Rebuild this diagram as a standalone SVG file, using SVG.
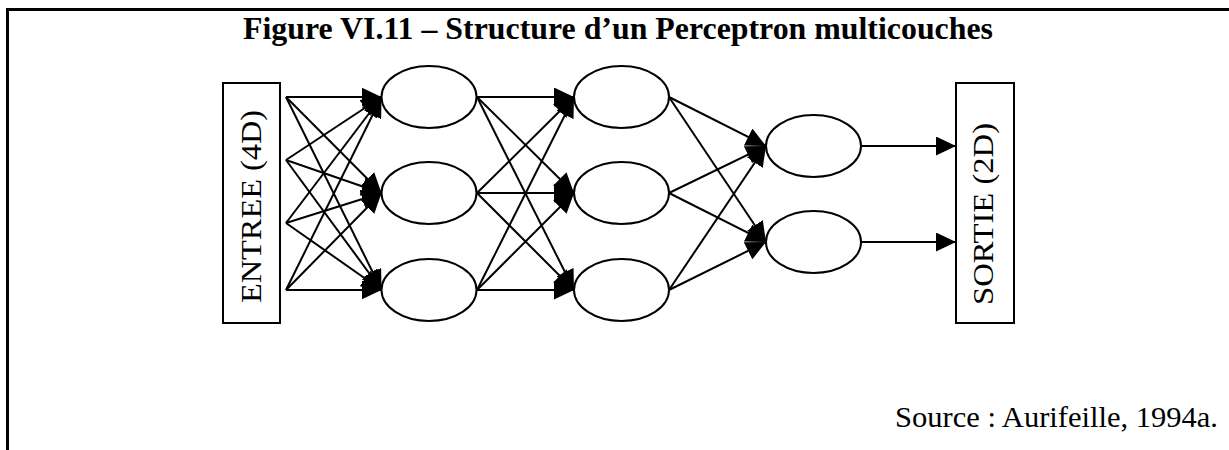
<svg xmlns="http://www.w3.org/2000/svg" width="1229" height="450" viewBox="0 0 1229 450">
<style>
.frame{stroke:#000;stroke-width:3;fill:none}
.box{fill:#fff;stroke:#000;stroke-width:2}
.neuron{fill:#fff;stroke:#000;stroke-width:2}
.conn line{stroke:#000;stroke-width:2;marker-end:url(#ah)}
.lbl{font-family:"Liberation Serif","Times New Roman",serif;font-size:30px;fill:#000}
.title{font-family:"Liberation Serif","Times New Roman",serif;font-size:31px;font-weight:bold;fill:#000}
.src{font-family:"Liberation Serif","Times New Roman",serif;font-size:30px;fill:#000}
</style>
<defs>
<marker id="ah" markerUnits="userSpaceOnUse" markerWidth="21" markerHeight="19" refX="20" refY="9.5" orient="auto">
<path d="M0,0 L20,9.5 L0,19 z" fill="#000"/>
</marker>
</defs>
<rect width="1229" height="450" fill="#fff"/>
<path class="frame" d="M7.5,450 V9.5 H1229"/>
<text class="title" x="243" y="39" textLength="750" lengthAdjust="spacingAndGlyphs">Figure VI.11 – Structure d’un Perceptron multicouches</text>
<g id="connectors" class="conn">
<line x1="286" y1="97" x2="381.5" y2="97"/>
<line x1="286" y1="97" x2="381.5" y2="193"/>
<line x1="286" y1="97" x2="381.5" y2="290"/>
<line x1="286" y1="160" x2="381.5" y2="97"/>
<line x1="286" y1="160" x2="381.5" y2="193"/>
<line x1="286" y1="160" x2="381.5" y2="290"/>
<line x1="286" y1="223" x2="381.5" y2="97"/>
<line x1="286" y1="223" x2="381.5" y2="193"/>
<line x1="286" y1="223" x2="381.5" y2="290"/>
<line x1="286" y1="290" x2="381.5" y2="97"/>
<line x1="286" y1="290" x2="381.5" y2="193"/>
<line x1="286" y1="290" x2="381.5" y2="290"/>
<line x1="477" y1="97" x2="574" y2="97"/>
<line x1="477" y1="97" x2="574" y2="193"/>
<line x1="477" y1="97" x2="574" y2="290"/>
<line x1="477" y1="193" x2="574" y2="97"/>
<line x1="477" y1="193" x2="574" y2="193"/>
<line x1="477" y1="193" x2="574" y2="290"/>
<line x1="477" y1="290" x2="574" y2="97"/>
<line x1="477" y1="290" x2="574" y2="193"/>
<line x1="477" y1="290" x2="574" y2="290"/>
<line x1="669" y1="97" x2="766" y2="146"/>
<line x1="669" y1="97" x2="766" y2="242"/>
<line x1="669" y1="193" x2="766" y2="146"/>
<line x1="669" y1="193" x2="766" y2="242"/>
<line x1="669" y1="290" x2="766" y2="146"/>
<line x1="669" y1="290" x2="766" y2="242"/>
<line x1="861" y1="146" x2="956" y2="146"/>
<line x1="861" y1="242" x2="956" y2="242"/>
</g>
<g id="entree">
<rect class="box" x="223" y="83" width="57" height="240"/>
<text class="lbl" transform="translate(261,206.5) rotate(-90)" text-anchor="middle" textLength="193" lengthAdjust="spacingAndGlyphs">ENTREE (4D)</text>
</g>
<g id="h1a"><ellipse class="neuron" cx="429" cy="97" rx="47.5" ry="31"/></g>
<g id="h1b"><ellipse class="neuron" cx="429" cy="193" rx="47.5" ry="31"/></g>
<g id="h1c"><ellipse class="neuron" cx="429" cy="290" rx="47.5" ry="31"/></g>
<g id="h2a"><ellipse class="neuron" cx="621.5" cy="97" rx="47.5" ry="31"/></g>
<g id="h2b"><ellipse class="neuron" cx="621.5" cy="193" rx="47.5" ry="31"/></g>
<g id="h2c"><ellipse class="neuron" cx="621.5" cy="290" rx="47.5" ry="31"/></g>
<g id="o1"><ellipse class="neuron" cx="813.5" cy="146" rx="47.5" ry="31"/></g>
<g id="o2"><ellipse class="neuron" cx="813.5" cy="242" rx="47.5" ry="31"/></g>
<g id="sortie">
<rect class="box" x="956" y="83" width="58" height="240"/>
<text class="lbl" transform="translate(993,214) rotate(-90)" text-anchor="middle" textLength="182" lengthAdjust="spacingAndGlyphs">SORTIE (2D)</text>
</g>
<text class="src" x="895" y="427" textLength="323" lengthAdjust="spacingAndGlyphs">Source : Aurifeille, 1994a.</text>
</svg>
